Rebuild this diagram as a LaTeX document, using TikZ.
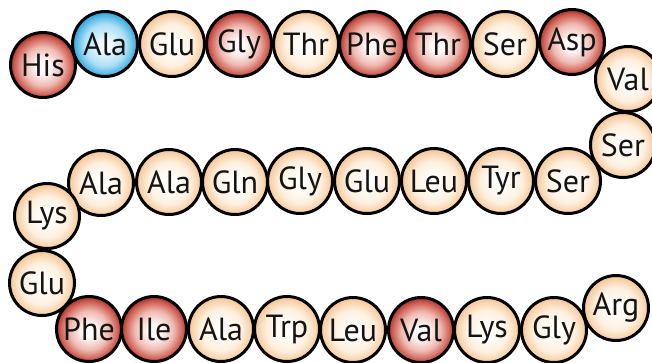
\documentclass[tikz,border=0pt]{standalone}
\usepackage{fontspec}
\setmainfont{PT Sans}
\definecolor{peachin}{HTML}{FFFDF9}
\definecolor{peachmid}{HTML}{FEF0E0}
\definecolor{peachout}{HTML}{F5C797}
\definecolor{redin}{HTML}{FFFAF9}
\definecolor{redmid}{HTML}{EFBAB1}
\definecolor{redrim}{HTML}{CF6055}
\definecolor{redout}{HTML}{A63129}
\definecolor{bluein}{HTML}{F0FAFE}
\definecolor{bluemid}{HTML}{AEE0F6}
\definecolor{blueout}{HTML}{2FA6DE}
\definecolor{ink}{HTML}{141414}
% the circle edge sits at 25bp of each shading
\pgfdeclareradialshading{peachball}{\pgfpoint{0bp}{-1bp}}{color(0bp)=(peachin); color(5bp)=(peachin); color(16bp)=(peachmid); color(25bp)=(peachout); color(50bp)=(peachout)}
\pgfdeclareradialshading{redball}{\pgfpoint{0bp}{-1.5bp}}{color(0bp)=(redin); color(5bp)=(redin); color(15bp)=(redmid); color(22bp)=(redrim); color(25.5bp)=(redout); color(50bp)=(redout)}
\pgfdeclareradialshading{blueball}{\pgfpoint{0bp}{-1bp}}{color(0bp)=(bluein); color(4bp)=(bluein); color(16bp)=(bluemid); color(25bp)=(blueout); color(50bp)=(blueout)}
\tikzset{
  residue/.style={circle, draw=black, line width=3pt, minimum size=65pt, inner sep=0pt,
    text=ink, font=\fontsize{32}{32}\selectfont},
  plain/.style={residue, shade, shading=peachball},
  hot/.style={residue, shade, shading=redball},
  cool/.style={residue, shade, shading=blueball}
}
\begin{document}
\begin{tikzpicture}[x=1pt, y=-1pt]
\useasboundingbox (0,0) rectangle (652,362);
% top strand
\node[hot]   (r1)  at (43,65)  {His};
\node[cool]  (r2)  at (105,44) {Ala};
\node[plain] (r3)  at (172,44) {Glu};
\node[hot]   (r4)  at (239,44) {Gly};
\node[plain] (r5)  at (306,44) {Thr};
\node[hot]   (r6)  at (372,44) {Phe};
\node[hot]   (r7)  at (438,44) {Thr};
\node[plain] (r8)  at (505,44) {Ser};
\node[hot]   (r9)  at (572,42) {Asp};
% right turn
\node[plain] (r10) at (628,79) {Val};
\node[plain] (r11) at (623,145) {Ser};
% middle strand
\node[plain] (r12) at (568,181) {Ser};
\node[plain] (r13) at (501,181) {Tyr};
\node[plain] (r14) at (434,181) {Leu};
\node[plain] (r15) at (367,181) {Glu};
\node[plain] (r16) at (300,181) {Gly};
\node[plain] (r17) at (235,182) {Gln};
\node[plain] (r18) at (169,182) {Ala};
\node[plain] (r19) at (101,183) {Ala};
% left turn
\node[plain] (r20) at (47,216)  {Lys};
\node[plain] (r21) at (42,283)  {Glu};
% bottom strand
\node[hot]   (r22) at (89,329)  {Phe};
\node[hot]   (r23) at (154,329) {Ile};
\node[plain] (r24) at (221,329) {Ala};
\node[plain] (r25) at (287,329) {Trp};
\node[plain] (r26) at (353,330) {Leu};
\node[hot]   (r27) at (421,330) {Val};
\node[plain] (r28) at (487,330) {Lys};
\node[plain] (r29) at (554,330) {Gly};
\node[plain] (r30) at (616,308) {Arg};
\end{tikzpicture}
\end{document}
